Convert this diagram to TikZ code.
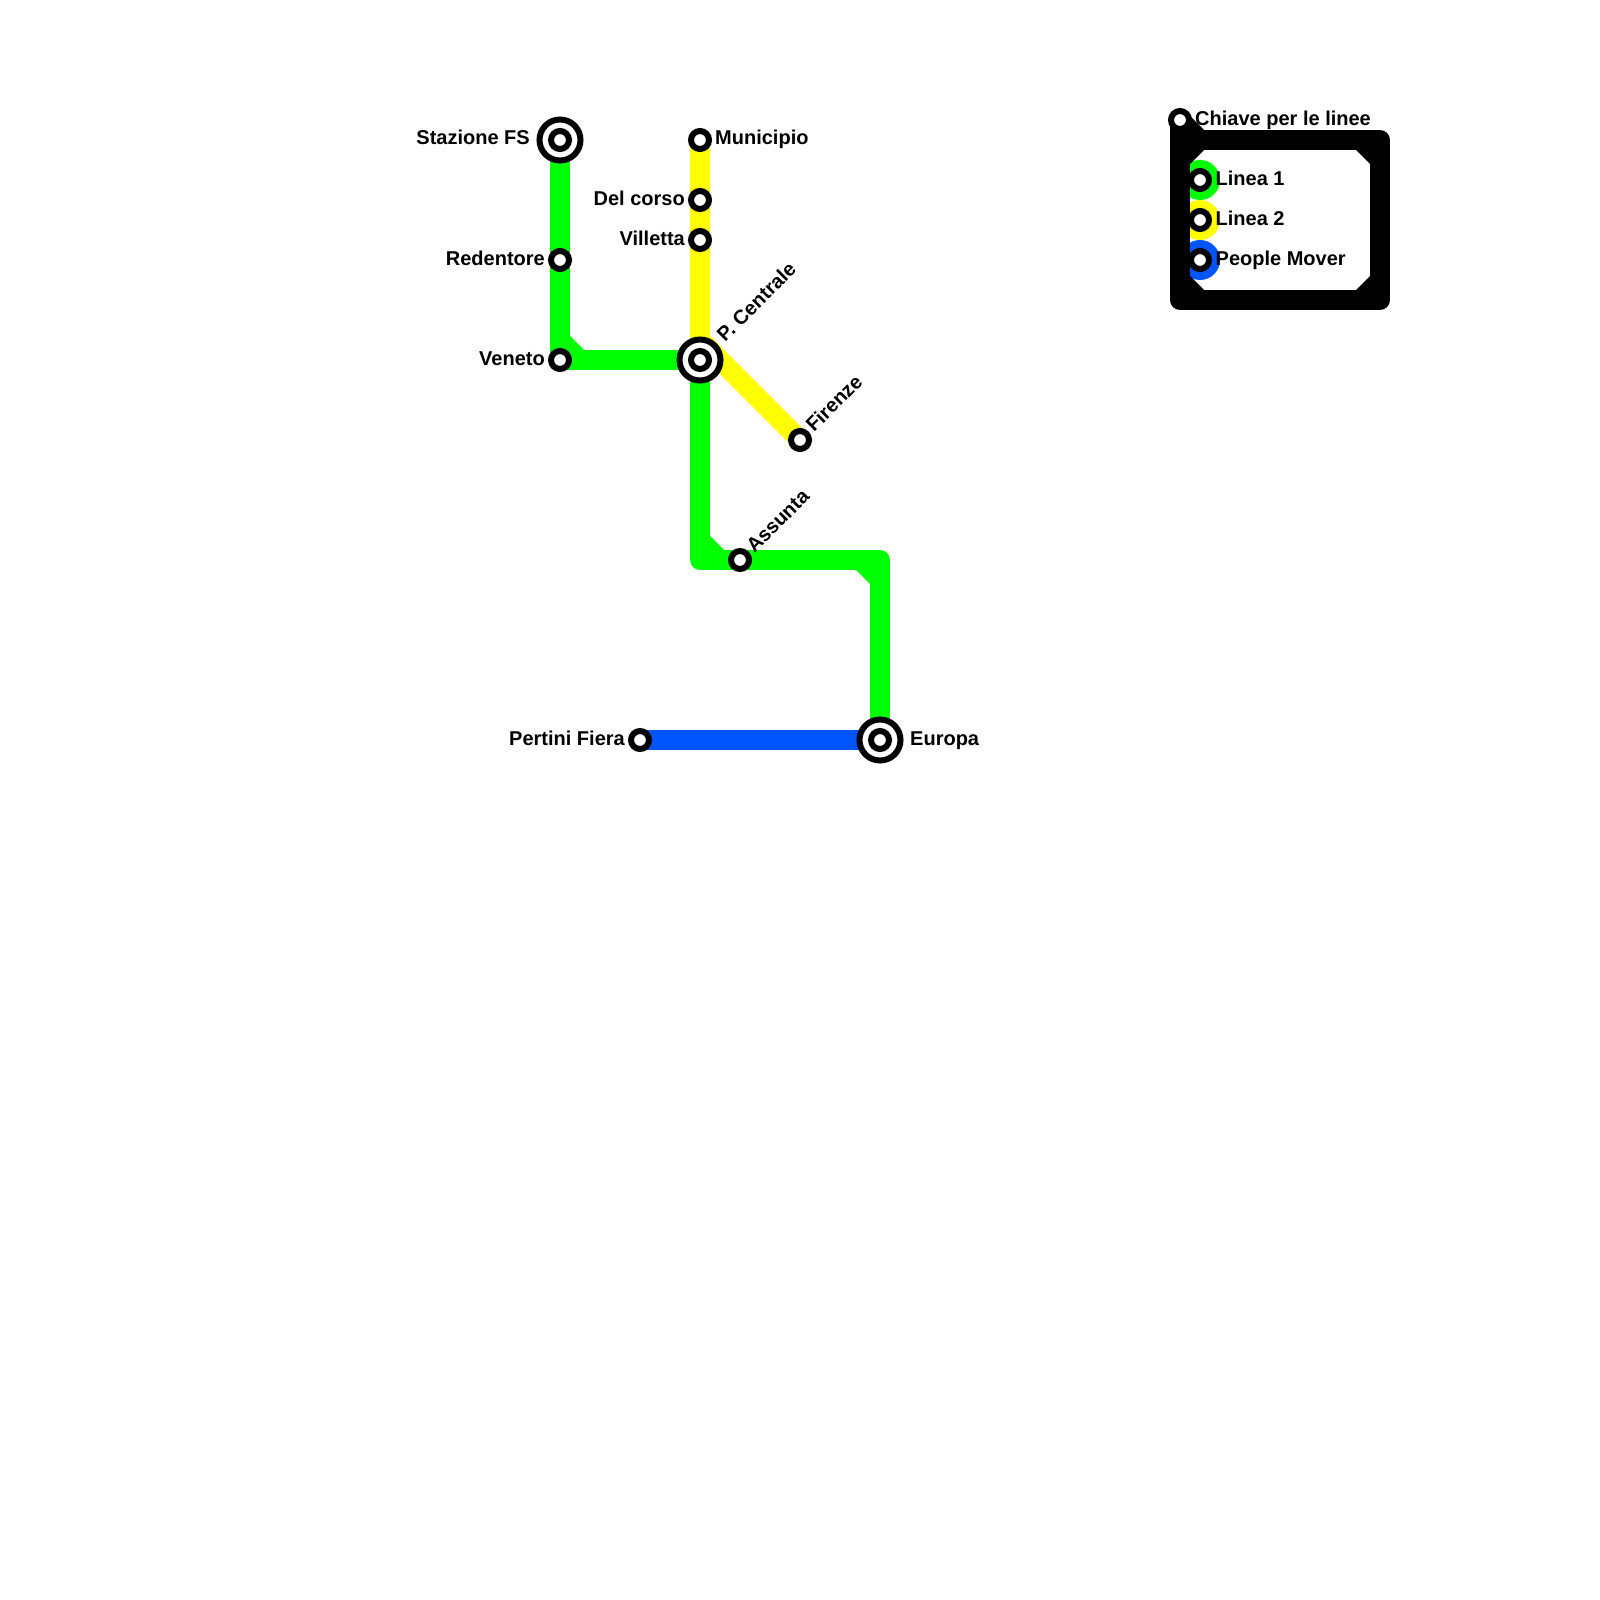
\documentclass[tikz,border=0pt]{standalone}
\usepackage{fontspec}
\setmainfont{Liberation Sans}
\usetikzlibrary{backgrounds}
\definecolor{lgreen}{RGB}{0,255,0}
\definecolor{lyellow}{RGB}{255,255,0}
\definecolor{lblue}{RGB}{0,85,255}
\tikzset{
  stn/.style={circle,draw=black,fill=white,line width=6pt,minimum size=18pt,inner sep=0pt,outer sep=0pt},
  hub/.style={circle,draw=black,fill=white,line width=6pt,minimum size=41pt,inner sep=0pt,outer sep=0pt},
  lbl/.style={font=\fontsize{20}{24}\selectfont\bfseries,inner sep=0pt,text=black},
  route/.style={line width=20pt,line join=round,line cap=butt},
  chamfer/.style={draw=none},
  keydot/.style={circle,inner sep=0pt,minimum size=40pt,draw=none}
}
\begin{document}
\begin{tikzpicture}[x=1pt,y=-1pt]
\useasboundingbox (0,0) rectangle (1600,1600);
% hubs
\node[hub] (hFS) at (560,140) {}; \node[stn] (sFS) at (560,140) {};
\node[hub] (hPC) at (700,360) {}; \node[stn] (sPC) at (700,360) {};
\node[hub] (hEU) at (880,740) {}; \node[stn] (sEU) at (880,740) {};
% stations
\node[stn] (red) at (560,260) {};
\node[stn] (ven) at (560,360) {};
\node[stn] (mun) at (700,140) {};
\node[stn] (del) at (700,200) {};
\node[stn] (vil) at (700,240) {};
\node[stn] (fir) at (800,440) {};
\node[stn] (ass) at (740,560) {};
\node[stn] (per) at (640,740) {};
\node[stn] (chi) at (1180,120) {};
\node[stn] (k1) at (1200,180) {};
\node[stn] (k2) at (1200,220) {};
\node[stn] (k3) at (1200,260) {};
% corners
\coordinate (y1) at (700,340);
\coordinate (c1) at (700,560);
\coordinate (c2) at (880,560);
\coordinate (b1) at (1180,300);
\coordinate (b2) at (1380,300);
\coordinate (b3) at (1380,140);
\coordinate (b4) at (1200,140);
\coordinate (b5) at (1180,140);
% labels
\node[lbl,anchor=base east] (tFS) at (530,145) {Stazione FS};
\node[lbl,anchor=base east] (tRE) at (545,265) {Redentore};
\node[lbl,anchor=base east] (tVE) at (545,365) {Veneto};
\node[lbl,anchor=base west] (tMU) at (715,145) {Municipio};
\node[lbl,anchor=base east] (tDE) at (685,205) {Del corso};
\node[lbl,anchor=base east] (tVI) at (685,245) {Villetta};
\node[lbl,anchor=base east] (tPE) at (625,745) {Pertini Fiera};
\node[lbl,anchor=base west] (tEU) at (910,745) {Europa};
\node[lbl,anchor=base west,rotate=45] (tPC) at (725,343) {P. Centrale};
\node[lbl,anchor=base west,rotate=45] (tFI) at (814,433) {Firenze};
\node[lbl,anchor=base west,rotate=45] (tAS) at (754.5,554) {Assunta};
\node[lbl,anchor=base west] (tCH) at (1195,125) {Chiave per le linee};
\node[lbl,anchor=base west] (tK1) at (1215.5,185) {Linea 1};
\node[lbl,anchor=base west] (tK2) at (1215.5,225) {Linea 2};
\node[lbl,anchor=base west] (tK3) at (1215.5,265) {People Mover};
\begin{scope}[on background layer]
\fill[white] (0,0) rectangle (1600,1600);
% key swatches
\node[keydot,fill=lgreen] (d1) at (k1.center) {};
\node[keydot,fill=lyellow] (d2) at (k2.center) {};
\node[keydot,fill=lblue] (d3) at (k3.center) {};
% lines
\draw[route,lyellow] (mun.center) -- (y1) -- (fir.center);
\draw[route,lgreen] (hFS.center) -- (ven.center) -- (hPC.center);
\draw[route,lgreen] (hPC.center) -- (c1) -- (c2) -- (hEU.center);
\draw[route,lblue] (per.center) -- (hEU.center);
\fill[lgreen,chamfer] (570,336) -- (584,350) -- (570,350) -- cycle;
\fill[lgreen,chamfer] (710,536) -- (724,550) -- (710,550) -- cycle;
\fill[lgreen,chamfer] (856,570) -- (870,584) -- (870,570) -- cycle;
% key frame
\draw[route,black] (chi.center) -- (b1) -- (b2) -- (b3) -- (b5);
\draw[route,black] (chi.center) -- (b4);
\fill[black,chamfer] (1190,164) -- (1204,150) -- (1190,150) -- cycle;
\fill[black,chamfer] (1356,150) -- (1370,164) -- (1370,150) -- cycle;
\fill[black,chamfer] (1356,290) -- (1370,276) -- (1370,290) -- cycle;
\fill[black,chamfer] (1190,276) -- (1204,290) -- (1190,290) -- cycle;
\end{scope}
\end{tikzpicture}
\end{document}
